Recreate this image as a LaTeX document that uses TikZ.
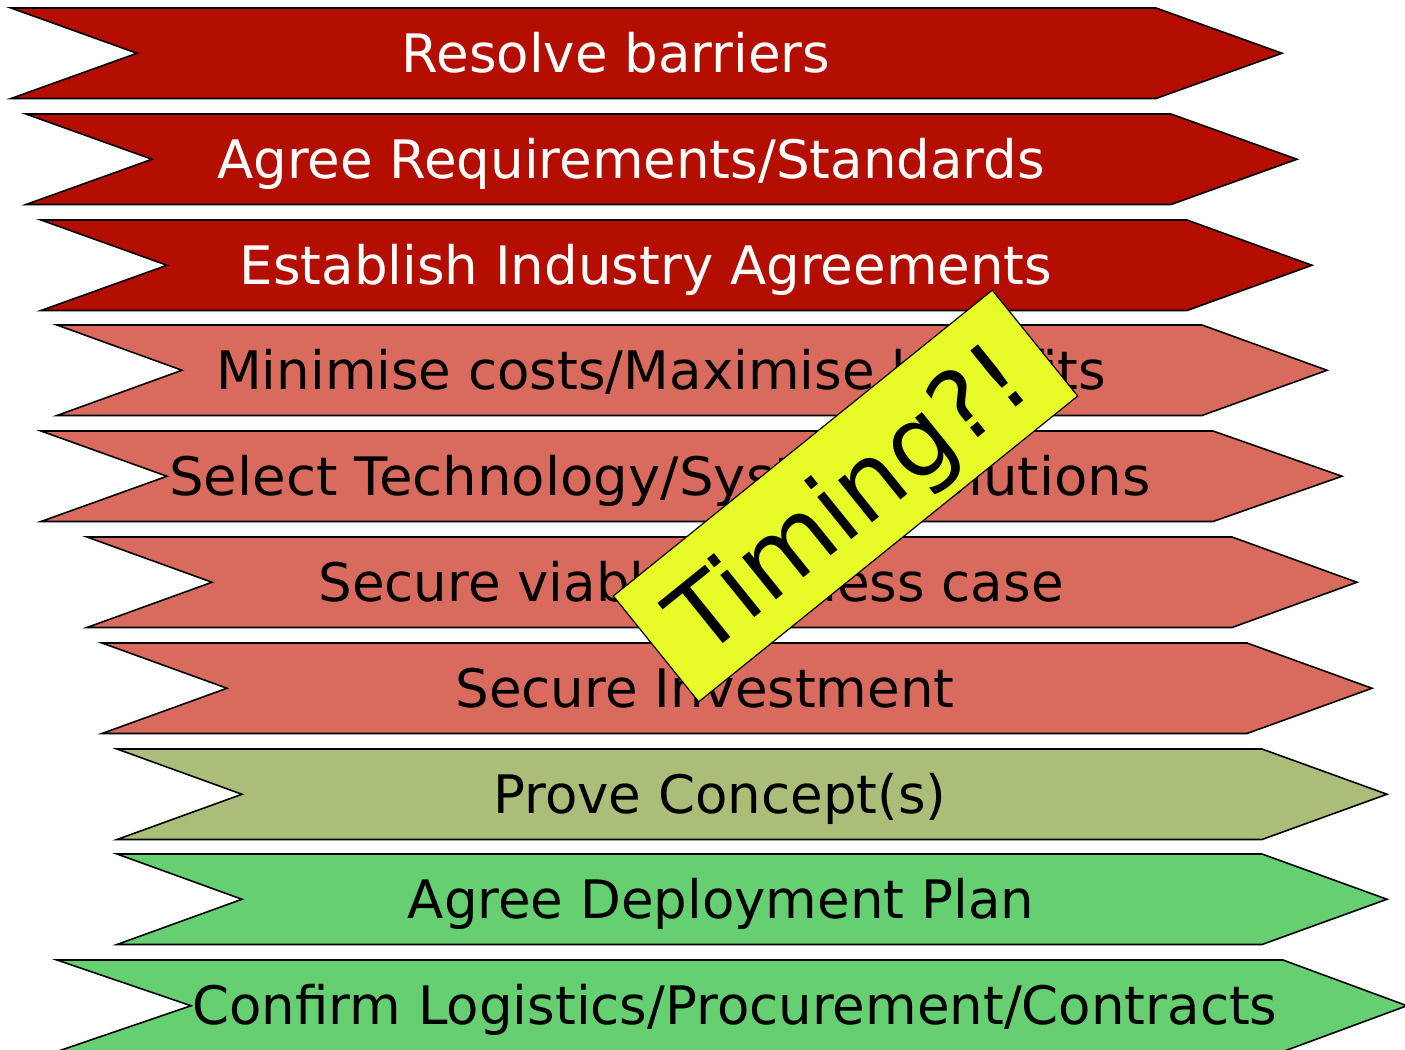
\documentclass[tikz,border=0pt]{standalone}
\usepackage{fontspec}
\setmainfont{DejaVu Sans}
\definecolor{dred}{RGB}{179,14,0}
\definecolor{salmon}{RGB}{217,107,94}
\definecolor{olivegr}{RGB}{170,190,122}
\definecolor{lgreen}{RGB}{102,207,114}
\definecolor{tyellow}{RGB}{230,250,40}
\tikzset{
  chevline/.style={draw=black, line width=0.8pt, line join=miter},
  lbl/.style={anchor=base, inner sep=0pt, font=\fontsize{26.5pt}{30pt}\selectfont},
}
% #1 left x, #2 top y, #3 notch x, #4 corner x, #5 tip x, #6 bottom y, #7 fill
\newcommand\mychev[7]{%
  \path[chevline, fill=#7] (#1,#2) -- (#4,#2) -- (#5,{(#2+#6)/2}) -- (#4,#6) -- (#1,#6) -- (#3,{(#2+#6)/2}) -- cycle;}
\begin{document}
\begin{tikzpicture}[x=0.5pt, y=-0.5pt]
\useasboundingbox (0,0) rectangle (1405,1050);
\clip (0,0) rectangle (1405,1050);
\mychev{11}{8}{137}{1156}{1282}{98.5}{dred}
\mychev{26}{114}{152}{1171}{1297}{204.5}{dred}
\mychev{41}{220}{167}{1187}{1312}{310.5}{dred}
\mychev{57}{325}{182}{1202}{1327}{415.5}{salmon}
\mychev{41}{431}{167}{1213}{1342}{521.5}{salmon}
\mychev{87}{537}{212}{1232}{1357}{627.5}{salmon}
\mychev{102}{643}{227}{1247}{1372}{733.5}{salmon}
\mychev{117}{749}{242}{1262}{1387}{839.5}{olivegr}
\mychev{117}{854}{242}{1262}{1387}{944.5}{lgreen}
\mychev{57}{960}{191}{1283}{1407}{1051.5}{lgreen}

\node[lbl, text=white] (t1) at (616,72) {Resolve barriers};
\node[lbl, text=white] (t2) at (631,178) {Agree Requirements/Standards};
\node[lbl, text=white] (t3) at (646,284) {Establish Industry Agreements};
\node[lbl] (t4) at (661,389) {Minimise costs/Maximise benefits};
\node[lbl, xscale=1.03] (t5) at (660,495) {Select Technology/System Solutions};
\node[lbl] (t6) at (691,601) {Secure viable business case};
\node[lbl] (t7) at (705,707) {Secure Investment};
\node[lbl] (t8) at (720,813) {Prove Concept(s)};
\node[lbl] (t9) at (721,918) {Agree Deployment Plan};
\node[lbl] (t10) at (735,1024) {Confirm Logistics/Procurement/Contracts};

\node[draw=black, line width=0.6pt, fill=tyellow, rotate=38.9,
      minimum width=243.5pt, minimum height=68pt, inner sep=0pt,
      text depth=0pt,
      font=\fontsize{49.5pt}{52pt}\selectfont] (timing) at (845.5,496) {Timing?!};
\end{tikzpicture}
\end{document}
